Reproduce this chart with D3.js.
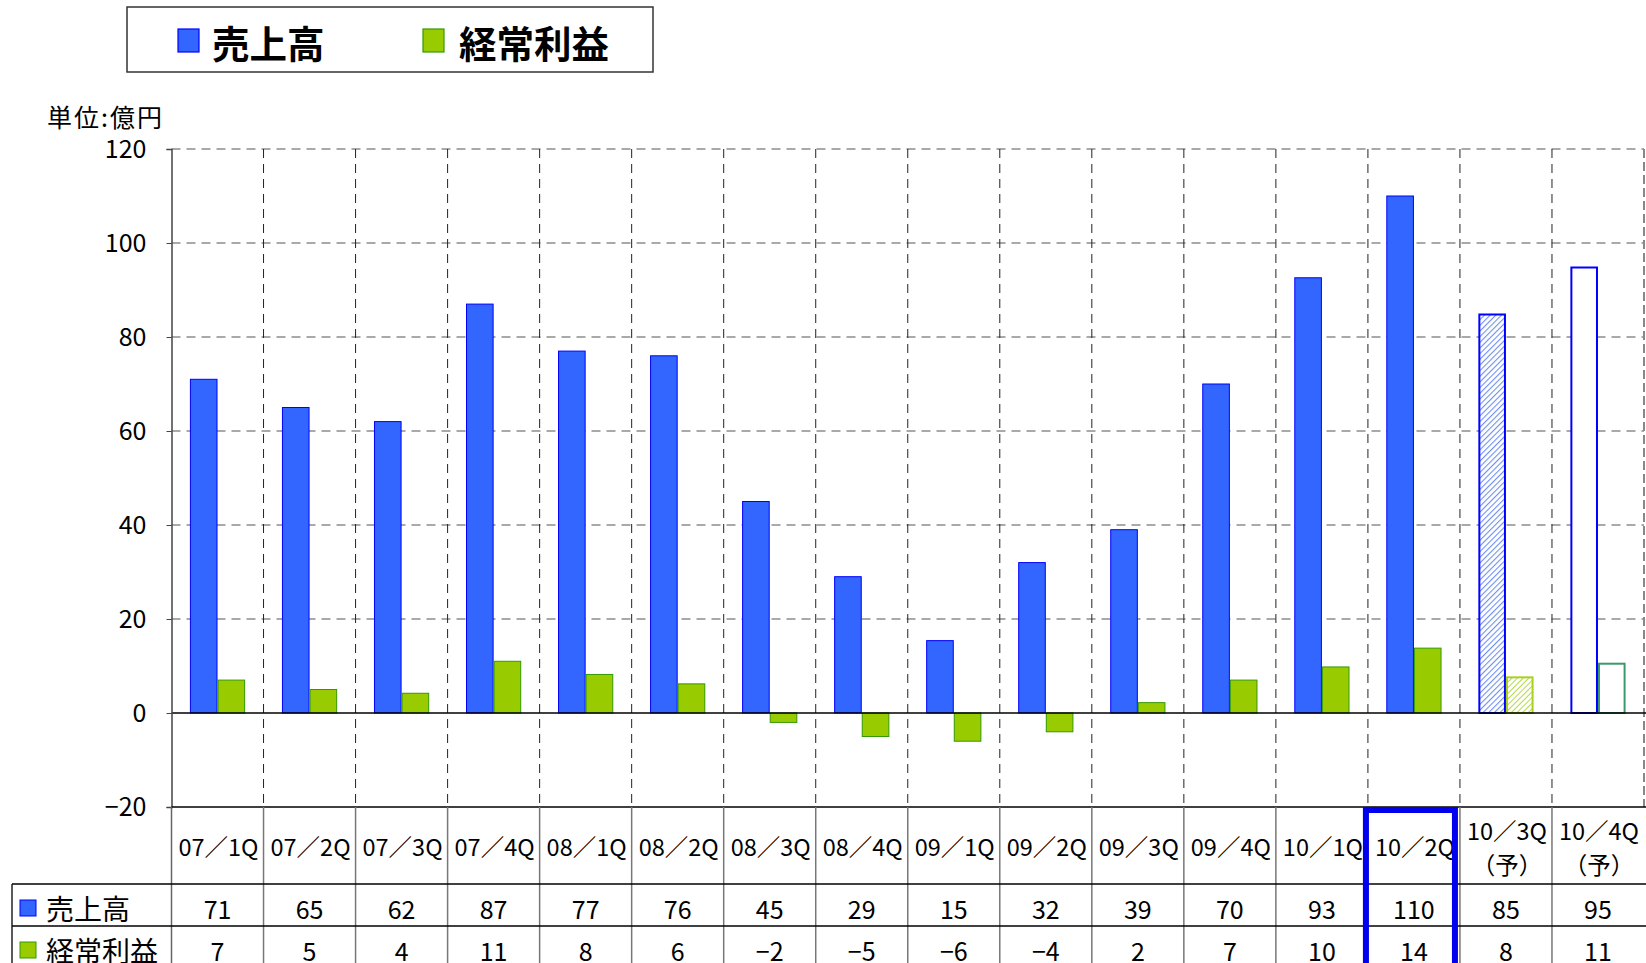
<!DOCTYPE html>
<html><head><meta charset="utf-8">
<script src="https://cdn.jsdelivr.net/npm/d3@7"></script>
<style>
html,body{margin:0;padding:0;background:#fff;}
text{font-family:'Noto Sans CJK JP','Noto Sans',sans-serif;fill:#000;}
</style></head>
<body>
<svg id="c" width="1646" height="963"></svg>
<script>
// ---- data ----
const categories = ["07／1Q","07／2Q","07／3Q","07／4Q","08／1Q","08／2Q","08／3Q","08／4Q",
  "09／1Q","09／2Q","09／3Q","09／4Q","10／1Q","10／2Q","10／3Q\n（予）","10／4Q\n（予）"];
const sales  = [71, 65, 62, 87, 77, 76, 45, 29, 15.4, 32, 39, 70, 92.6, 110, 85, 95];
const profit = [7, 5, 4.2, 11, 8.2, 6.2, -2, -5, -6, -4, 2.2, 7, 9.8, 13.8, 7.8, 10.7];
const seriesNames = ["売上高","経常利益"];
const yTicks = [-20, 0, 20, 40, 60, 80, 100, 120];
const unitLabel = "単位:億円";
const highlightCategory = "10／2Q";

// ---- layout ----
const svg = d3.select("#c");
const L = 171.5, R = 1644, T = 149, B = 807;
const rowTop1 = 884, rowTop2 = 926, tableLeft = 12, W = 1646, H = 963;
const blueFill = "#3366FF", blueStroke = "#0000FF", greenFill = "#99CC00", greenStroke = "#339900";

const y = d3.scaleLinear().domain([-20, 120]).range([B, T]);
const x0 = d3.scaleBand().domain(categories).range([L, R]).paddingInner(0.4).paddingOuter(0.2);
const x1 = d3.scaleBand().domain(seriesNames).range([0, x0.bandwidth()]);
const step = x0.step();
const colStart = c => x0(c) - step * 0.2;

// patterns
const defs = svg.append("defs");
function hatch(id, color, w) {
  const p = defs.append("pattern").attr("id", id).attr("patternUnits", "userSpaceOnUse")
    .attr("width", 4).attr("height", 4).attr("patternTransform", "rotate(45)");
  p.append("rect").attr("width", 4).attr("height", 4).attr("fill", "#fff");
  p.append("line").attr("x1", 0).attr("y1", 0).attr("x2", 0).attr("y2", 4)
    .attr("stroke", color).attr("stroke-width", w);
}
hatch("hb", "#6f8ff0", 2.2);
hatch("hg", "#b5d84a", 2.0);

// grid horizontal
svg.append("g").selectAll("line").data(yTicks.filter(t => t > 0)).join("line")
  .attr("x1", L).attr("x2", R).attr("y1", d => y(d)).attr("y2", d => y(d))
  .attr("stroke", "#555").attr("stroke-width", 1.2).attr("stroke-dasharray", "9,6");
// grid vertical
svg.append("g").selectAll("line").data(categories.slice(1)).join("line")
  .attr("x1", d => colStart(d)).attr("x2", d => colStart(d)).attr("y1", T).attr("y2", B)
  .attr("stroke", "#222").attr("stroke-width", 1).attr("stroke-dasharray", "9,6");
svg.append("line").attr("x1", R).attr("x2", R).attr("y1", T).attr("y2", B)
  .attr("stroke", "#888").attr("stroke-width", 2).attr("stroke-dasharray", "9,4");

// bars
const g = svg.append("g");
categories.forEach((c, i) => {
  const vals = [sales[i], profit[i]];
  vals.forEach((v, j) => {
    const xx = x0(c) + x1(seriesNames[j]);
    const y0 = y(Math.max(0, v)), h = Math.abs(y(v) - y(0));
    let fill, stroke, sw;
    if (i === 14) { fill = j === 0 ? "url(#hb)" : "url(#hg)"; stroke = j === 0 ? blueStroke : "#A8D020"; sw = 2; }
    else if (i === 15) { fill = "#fff"; stroke = j === 0 ? blueStroke : "#3a9a6e"; sw = 2; }
    else { fill = j === 0 ? blueFill : greenFill; stroke = j === 0 ? blueStroke : greenStroke; sw = 1; }
    g.append("rect").attr("x", xx + sw / 2).attr("y", y0 + (i >= 14 ? sw / 2 : 0))
      .attr("width", x1.bandwidth() - sw).attr("height", Math.max(0, h - (i >= 14 ? sw / 2 : 0)))
      .attr("fill", fill).attr("stroke", stroke).attr("stroke-width", sw);
  });
});

// zero line
svg.append("line").attr("x1", L).attr("x2", R + 2).attr("y1", y(0)).attr("y2", y(0))
  .attr("stroke", "#000").attr("stroke-width", 1.5);

// y axis
const ya = d3.axisLeft(y).tickValues(yTicks).tickSize(5).tickPadding(20).tickFormat(d3.format("d"));
const yg = svg.append("g").attr("transform", `translate(${L},0)`).call(ya);
yg.select(".domain").attr("stroke", "#444").attr("stroke-width", 1.5);
yg.selectAll(".tick line").attr("stroke", "#444");
yg.selectAll("text").attr("font-size", 25).attr("fill", "#000")
  .attr("font-family", "'Noto Sans CJK JP',sans-serif");

// unit label
svg.append("text").attr("x", 47).attr("y", 116).attr("dominant-baseline", "central")
  .attr("font-size", 25).attr("letter-spacing", 2).text(unitLabel);

// ---- table ----
const tg = svg.append("g");
tg.append("line").attr("x1", L).attr("x2", W).attr("y1", B).attr("y2", B).attr("stroke", "#000").attr("stroke-width", 1.5);
tg.append("line").attr("x1", L).attr("x2", L).attr("y1", B).attr("y2", H).attr("stroke", "#666").attr("stroke-width", 1.5);
tg.selectAll("line.v").data(categories.slice(1)).join("line").attr("class", "v")
  .attr("x1", d => colStart(d)).attr("x2", d => colStart(d)).attr("y1", B).attr("y2", H)
  .attr("stroke", "#777").attr("stroke-width", 1.5);
[rowTop1, rowTop2].forEach(yy => tg.append("line").attr("x1", tableLeft).attr("x2", W)
  .attr("y1", yy).attr("y2", yy).attr("stroke", "#000").attr("stroke-width", 1.3));
tg.append("line").attr("x1", tableLeft).attr("x2", tableLeft).attr("y1", rowTop1).attr("y2", H)
  .attr("stroke", "#000").attr("stroke-width", 1.3);

// category labels
categories.forEach(c => {
  const lines = c.split("\n");
  const cx = colStart(c) + step / 2;
  const t = tg.append("text").attr("text-anchor", "middle").attr("font-size", 23.5);
  if (lines.length === 1) {
    t.append("tspan").attr("x", cx + 1).attr("y", 846).attr("dominant-baseline", "central").text(lines[0]);
  } else {
    t.append("tspan").attr("x", cx + 1).attr("y", 830).attr("dominant-baseline", "central").text(lines[0]);
    t.append("tspan").attr("x", cx + 1).attr("y", 864).attr("dominant-baseline", "central").text(lines[1]);
  }
});

// row headers
const rowY = [908, 950];
const fmt = d3.format("d");
[[sales, blueFill, blueStroke], [profit, greenFill, greenStroke]].forEach(([arr, f, s], r) => {
  tg.append("rect").attr("x", 20).attr("y", rowY[r] - 8).attr("width", 16).attr("height", 16)
    .attr("fill", f).attr("stroke", s).attr("stroke-width", 1);
  tg.append("text").attr("x", 46).attr("y", rowY[r]).attr("dominant-baseline", "central")
    .attr("font-size", 28).text(seriesNames[r]);
  categories.forEach((c, i) => {
    tg.append("text").attr("x", colStart(c) + step / 2).attr("y", rowY[r])
      .attr("dominant-baseline", "central").attr("text-anchor", "middle")
      .attr("font-size", 25).text(fmt(Math.round(arr[i])));
  });
});

// highlight box
const hs = colStart(highlightCategory);
tg.append("rect").attr("x", hs - 2).attr("y", B + 3).attr("width", step - 3).attr("height", H)
  .attr("fill", "none").attr("stroke", "#0000EE").attr("stroke-width", 6);

// ---- legend ----
const lg = svg.append("g");
lg.append("rect").attr("x", 127).attr("y", 7).attr("width", 526).attr("height", 65)
  .attr("fill", "#fff").attr("stroke", "#333").attr("stroke-width", 1.5);
[[blueFill, blueStroke, 178, 212], [greenFill, greenStroke, 423, 459]].forEach(([f, s, sx, tx], i) => {
  lg.append("rect").attr("x", sx).attr("y", 29).attr("width", 21).attr("height", 23)
    .attr("fill", f).attr("stroke", s).attr("stroke-width", 1.2);
  lg.append("text").attr("x", tx).attr("y", 41).attr("dominant-baseline", "central")
    .attr("font-size", 37.5).attr("font-weight", "bold").text(seriesNames[i]);
});
</script>
</body></html>
